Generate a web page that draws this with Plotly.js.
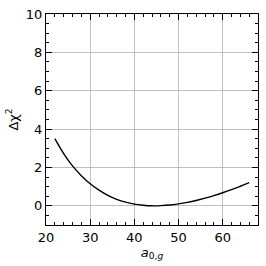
<!DOCTYPE html>
<html><head><meta charset="utf-8">
<script src="https://cdn.plot.ly/plotly-3.0.1.min.js"></script>
<style>html,body{margin:0;padding:0;background:#fff;}#c{width:266px;height:266px;}</style>
</head><body><div id="c"></div>
<script>
const a0g = [22, 24, 26, 28, 30, 32, 34, 36, 38, 40, 42, 44, 46, 48, 50, 52, 54, 56, 58, 60, 62, 64, 66];
const dchi2 = [3.5, 2.72, 2.08, 1.57, 1.15, 0.82, 0.55, 0.34, 0.19, 0.09, 0.03, 0.0, 0.01, 0.04, 0.1, 0.18, 0.28, 0.4, 0.53, 0.68, 0.84, 1.02, 1.21];
const xTicks = [20, 30, 40, 50, 60];
const yTicks = [0, 2, 4, 6, 8, 10];

const axFont = {family: 'DejaVu Sans', size: 13, color: '#000'};
Plotly.newPlot('c', [{
  x: a0g, y: dchi2, type: 'scatter', mode: 'lines',
  line: {color: '#000', width: 1.4, shape: 'spline'}
}], {
  width: 266, height: 266,
  margin: {l: 46, r: 8, t: 13.5, b: 41.3},
  paper_bgcolor: '#fff', plot_bgcolor: '#fff',
  showlegend: false,
  xaxis: {
    range: [20, 68], tickvals: xTicks, ticks: 'inside', ticklen: 6, tickwidth: 1, tickcolor: '#000',
    showline: true, linecolor: '#000', linewidth: 1, mirror: 'ticks',
    showgrid: true, gridcolor: '#b0b0b0', gridwidth: 0.8, zeroline: false,
    tickfont: axFont,
    minor: {dtick: 2, tick0: 20, ticks: 'inside', ticklen: 3, tickcolor: '#000', showgrid: false},
    title: {text: '<i>a</i><sub>0,<i>g</i></sub>', font: axFont, standoff: 2}
  },
  yaxis: {
    range: [-1, 10], tickvals: yTicks, ticks: 'inside', ticklen: 6, tickwidth: 1, tickcolor: '#000',
    showline: true, linecolor: '#000', linewidth: 1, mirror: 'ticks',
    showgrid: true, gridcolor: '#b0b0b0', gridwidth: 0.8, zeroline: false,
    tickfont: axFont,
    minor: {dtick: 0.5, tick0: 0, ticks: 'inside', ticklen: 3, tickcolor: '#000', showgrid: false},
    title: {text: 'Δχ<sup>2</sup>', font: axFont, standoff: 4}
  }
}, {displayModeBar: false, staticPlot: true});
</script></body></html>
